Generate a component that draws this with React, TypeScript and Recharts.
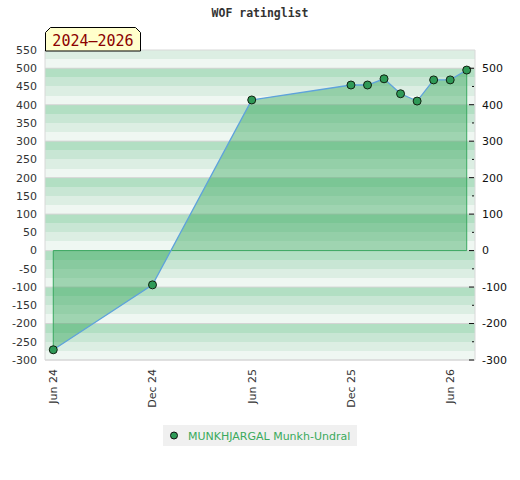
import {
  Area,
  CartesianGrid,
  ComposedChart,
  Line,
  ReferenceArea,
  ReferenceLine,
  XAxis,
  YAxis,
} from 'recharts';

// months counted from Jun 24
const months = [0, 6, 12, 18, 19, 20, 21, 22, 23, 24, 25];
const ratings = [-272, -94, 413, 454, 454, 471, 430, 410, 468, 468, 495];

const tickMonths = [0, 6, 12, 18, 24];
const tickLabels = ['Jun 24', 'Dec 24', 'Jun 25', 'Dec 25', 'Jun 26'];

const leftTicks = [550, 500, 450, 400, 350, 300, 250, 200, 150, 100, 50, 0, -50, -100, -150, -200, -250, -300];
const rightTicks = [500, 450, 400, 350, 300, 250, 200, 150, 100, 50, 0, -50, -100, -150, -200, -250, -300];
const gridTicks = [500, 400, 300, 200, 100, 0, -100, -200, -300];

const playerName = 'MUNKHJARGAL Munkh-Undral';
const periodLabel = '2024–2026';
const title = 'WOF ratinglist';

const yDomain = [-300, 550];
const xDomain = [-0.5, 25.5];

// background bands every 25 points
const stripeTicks: number[] = [];
for (let v = yDomain[1]; v >= yDomain[0]; v -= 25) stripeTicks.push(v);

const data = months.map((m, i) => ({ m, v: ratings[i] }));

const font = '"DejaVu Sans", sans-serif';

const LeftTick = (props: any) => {
  const { x, y, payload } = props;
  return (
    <text x={x - 8} y={y} dy="0.355em" textAnchor="end" fontSize={11} fontFamily={font} fill="#333">
      {payload.value}
    </text>
  );
};

const RightTick = (props: any) => {
  const { x, y, payload } = props;
  const major = payload.value % 100 === 0;
  return (
    <g>
      <line x1={x - (major ? 6 : 3)} x2={x - 1} y1={y} y2={y} stroke="#111" strokeWidth={1} />
      {major && (
        <text x={x + 7} y={y} dy="0.355em" textAnchor="start" fontSize={11} fontFamily={font} fill="#111">
          {payload.value}
        </text>
      )}
    </g>
  );
};

const BottomTick = (props: any) => {
  const { x, y, payload } = props;
  const label = tickLabels[tickMonths.indexOf(payload.value)];
  return (
    <text
      x={x}
      y={y + 9}
      dy="0.35em"
      textAnchor="end"
      fontSize={11}
      fontFamily={font}
      fill="#333"
      transform={`rotate(-90 ${x} ${y + 9})`}
    >
      {label}
    </text>
  );
};

// map values to pixels with the axis scale when it is available
const toPixels = (values: number[]) => (args: any) => {
  const s = args?.yAxis?.scale;
  const off = args?.offset;
  return values.map((v) => {
    if (typeof s === 'function') return s(v);
    if (s && typeof s.map === 'function') return s.map(v);
    return off.top + ((yDomain[1] - v) / (yDomain[1] - yDomain[0])) * off.height;
  });
};

export default function App() {
  const first = data[0];
  const last = data[data.length - 1];
  return (
    <div style={{ position: 'absolute', left: 0, top: 0, width: 520, height: 480, background: '#fff' }}>
      <ComposedChart width={520} height={480} data={data} margin={{ top: 50, right: 5, bottom: 60, left: 5 }}>
        <XAxis
          dataKey="m"
          type="number"
          domain={xDomain}
          ticks={tickMonths}
          interval={0}
          axisLine={false}
          tickLine={false}
          tickSize={0}
          tickMargin={0}
          height={60}
          tick={<BottomTick />}
        />
        <YAxis
          yAxisId="l"
          orientation="left"
          type="number"
          domain={yDomain}
          ticks={leftTicks}
          interval={0}
          width={40}
          axisLine={false}
          tickLine={false}
          tickSize={0}
          tickMargin={0}
          tick={<LeftTick />}
        />
        <YAxis
          yAxisId="r"
          orientation="right"
          type="number"
          domain={yDomain}
          ticks={rightTicks}
          interval={0}
          width={40}
          axisLine={false}
          tickLine={false}
          tickSize={0}
          tickMargin={0}
          tick={<RightTick />}
        />
        <CartesianGrid
          yAxisId="l"
          vertical={false}
          stroke="none"
          fillOpacity={1}
          horizontalFill={['#dceee3', '#eff7f2', '#b2dfc3', '#c8e6d4']}
          horizontalCoordinatesGenerator={toPixels(stripeTicks)}
        />
        <CartesianGrid
          yAxisId="l"
          vertical={false}
          stroke="#d4d4d4"
          strokeWidth={1}
          horizontalCoordinatesGenerator={toPixels(gridTicks)}
        />
        <Area
          yAxisId="r"
          dataKey="v"
          type="linear"
          baseValue={0}
          stroke="none"
          fill="#28a050"
          fillOpacity={0.4}
          isAnimationActive={false}
          activeDot={false}
        />
        <ReferenceLine
          yAxisId="l"
          segment={[{ x: first.m, y: 0 }, { x: last.m, y: 0 }]}
          stroke="#3aa860"
          strokeWidth={1}
        />
        <ReferenceLine
          yAxisId="l"
          segment={[{ x: first.m, y: 0 }, { x: first.m, y: first.v }]}
          stroke="#3aa860"
          strokeWidth={1}
        />
        <ReferenceLine
          yAxisId="l"
          segment={[{ x: last.m, y: 0 }, { x: last.m, y: last.v }]}
          stroke="#3aa860"
          strokeWidth={1}
        />
        <ReferenceArea
          yAxisId="l"
          x1={xDomain[0]}
          x2={xDomain[1]}
          y1={yDomain[0]}
          y2={yDomain[1]}
          fill="none"
          stroke="#d8d8d8"
          strokeWidth={1}
        />
        <Line
          yAxisId="l"
          dataKey="v"
          type="linear"
          stroke="#5ea2dc"
          strokeWidth={1.3}
          dot={{ r: 4, fill: '#2f9a57', stroke: '#112211', strokeWidth: 1 }}
          activeDot={false}
          isAnimationActive={false}
        />
      </ComposedChart>

      <svg width={520} height={26} style={{ position: 'absolute', left: 0, top: 0 }}>
        <text x={260} y={17} textAnchor="middle" fontSize={11.5} fontWeight="bold" fontFamily='"DejaVu Sans Mono", monospace' fill="#333">
          {title}
        </text>
      </svg>

      <svg width={97} height={25} style={{ position: 'absolute', left: 45, top: 27 }}>
        <path d="M0.5,24 V5.5 L5.5,0.5 H90.5 L95.5,5.5 V24 Z" fill="#ffffcc" stroke="#000" strokeWidth={1} />
        <text x={48} y={19} textAnchor="middle" fontSize={15} fontFamily='"DejaVu Sans Mono", monospace' fill="#8b0000">
          {periodLabel}
        </text>
      </svg>

      <div
        style={{
          position: 'absolute',
          left: 163,
          top: 425,
          width: 194,
          height: 21,
          background: '#f0f0f0',
        }}
      >
        <svg width={194} height={21}>
          <circle cx={11} cy={10.5} r={3.5} fill="#2f9a57" stroke="#111" strokeWidth={1} />
          <text x={25} y={14.5} fontSize={11} fontFamily={font} fill="#3aaa5c">
            {playerName}
          </text>
        </svg>
      </div>
    </div>
  );
}
